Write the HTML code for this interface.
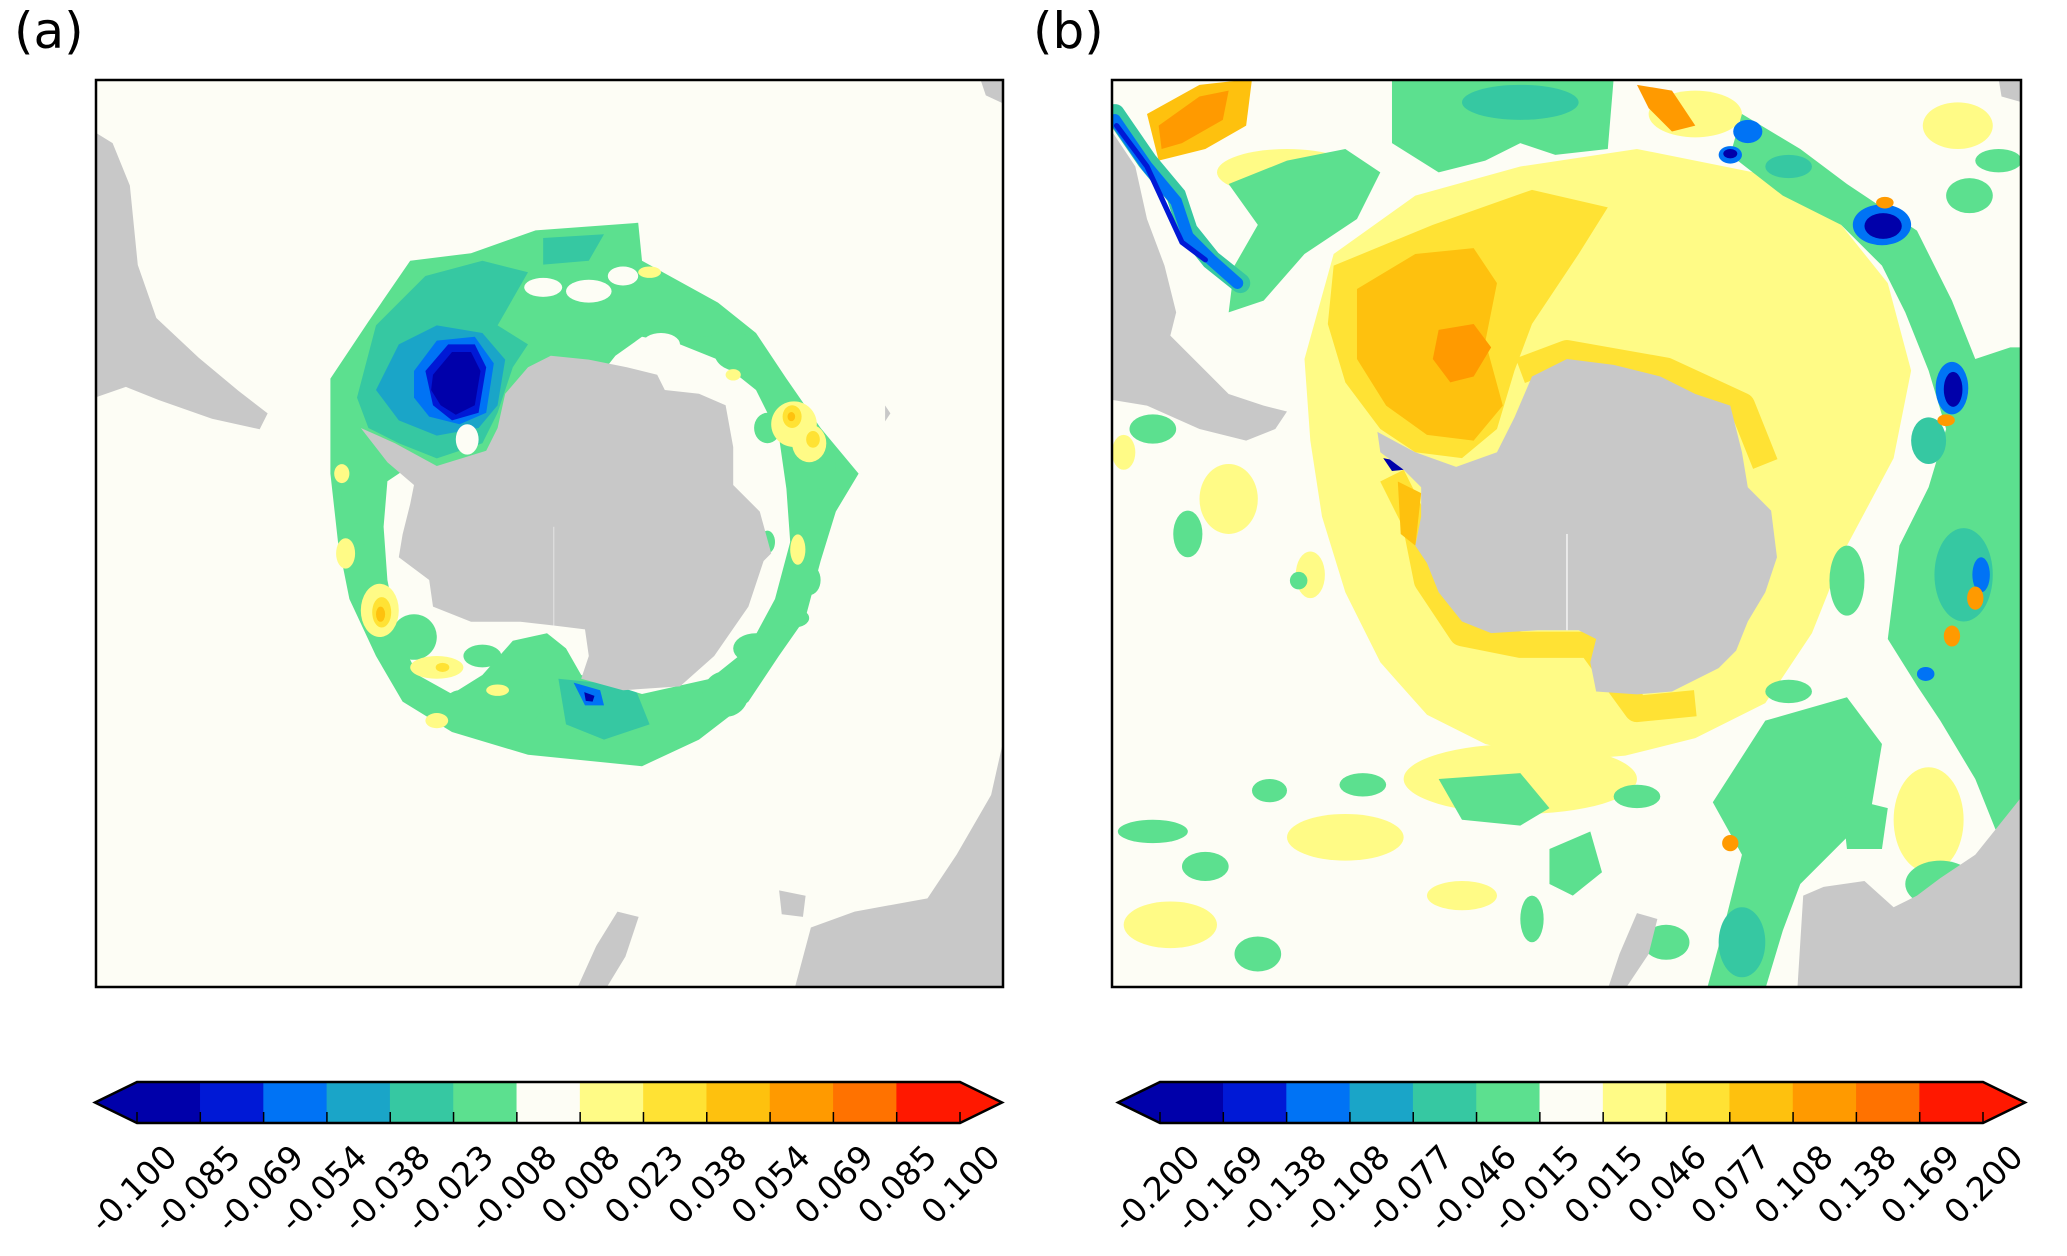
<!DOCTYPE html>
<html><head><meta charset="utf-8"><style>
html,body{margin:0;padding:0;background:#fff;}
svg{display:block;font-family:"DejaVu Sans","Liberation Sans",sans-serif;}
</style></head><body>
<svg id="fig" width="2067" height="1256" viewBox="0 0 2067 1256" xmlns="http://www.w3.org/2000/svg">
<text x="14" y="48" font-size="50">(a)</text>
<text x="1033" y="48" font-size="50">(b)</text>

<!-- PANEL A -->
<g>
<clipPath id="ca"><rect x="96" y="80" width="907" height="907"/></clipPath>
<g clip-path="url(#ca)">
<rect x="96" y="80" width="907" height="907" fill="#fdfdf5"/>
<g transform="scale(1.325)" fill="#c8c8c8">
<path d="M72,100 L85,108 L98,140 L104,200 L118,240 L150,270 L180,295 L202,312 L196,324 L160,316 L120,302 L95,292 L72,300Z"/>
<path d="M740,60 L757,60 L757,78 L744,72Z"/>
<path d="M757,560 L748,600 L722,645 L700,678 L645,688 L612,700 L600,745 L757,745Z"/>
<path d="M466,688 L482,692 L472,722 L458,745 L436,745 L450,714Z"/>
<path d="M588,672 L608,676 L606,692 L590,690Z"/>
<path d="M668,306 L672,312 L668,318Z"/>
</g>
<g transform="translate(300,200) scale(0.38)">
<path fill="#5ce08f" d="M80,470 L180,320 L290,160 L450,140 L620,80 L890,60 L900,160 L1100,270 L1200,350 L1280,470 L1370,600 L1470,720 L1410,820 L1370,950 L1330,1100 L1260,1200 L1180,1320 L1050,1420 L900,1490 L800,1480 L600,1460 L400,1400 L270,1320 L200,1200 L130,1050 L100,900 L80,720Z"/>
<path fill="#36c8a2" d="M150,520 L200,330 L330,200 L480,160 L600,190 L560,260 L520,330 L600,380 L560,440 L520,560 L480,640 L360,680 L260,640 L180,600Z"/>
<path fill="#36c8a2" d="M640,100 L800,90 L760,160 L640,170Z"/>
<path fill="#36c8a2" d="M680,1260 L880,1280 L920,1380 L800,1420 L700,1380Z"/>
<path fill="#1aa5c8" d="M200,500 L260,380 L360,330 L480,350 L540,420 L520,540 L470,600 L360,620 L260,580Z"/>
<path fill="#0073f5" d="M300,450 L360,370 L460,360 L510,430 L490,560 L420,590 L340,570 L300,520Z"/>
<path fill="#0019d6" d="M330,450 L390,380 L460,380 L490,440 L470,560 L400,580 L350,540Z"/>
<path fill="#0000aa" d="M350,460 L400,400 L450,400 L475,450 L460,540 L410,565 L370,540 L345,500Z"/>
<path fill="#0073f5" d="M720,1270 L790,1290 L800,1330 L750,1330Z"/>
<path fill="#0000aa" d="M748,1295 L775,1305 L770,1320 L752,1318Z"/>
<path fill="#fdfdf5" d="M830,410 L900,360 L1000,380 L1100,420 L1200,500 L1260,620 L1280,760 L1290,900 L1250,1050 L1180,1180 L1080,1260 L900,1300 L740,1250 L700,1180 L650,1140 L560,1160 L480,1250 L400,1300 L310,1250 L260,1150 L230,1000 L220,860 L230,740 L290,700 L600,700Z"/>
<g fill="#fdfdf5">
<ellipse cx="640" cy="230" rx="50" ry="25"/><ellipse cx="760" cy="240" rx="60" ry="30"/><ellipse cx="850" cy="200" rx="40" ry="25"/>
<ellipse cx="950" cy="380" rx="50" ry="30"/><ellipse cx="440" cy="630" rx="30" ry="40"/>
</g>
<g fill="#5ce08f">
<ellipse cx="1230" cy="600" rx="35" ry="40"/><ellipse cx="1320" cy="830" rx="30" ry="40"/><ellipse cx="1230" cy="900" rx="20" ry="30"/>
<ellipse cx="1300" cy="1100" rx="40" ry="25"/><ellipse cx="1200" cy="1180" rx="60" ry="40"/><ellipse cx="140" cy="780" rx="30" ry="40"/>
<ellipse cx="150" cy="880" rx="40" ry="30"/><ellipse cx="300" cy="1150" rx="60" ry="60"/><ellipse cx="480" cy="1200" rx="50" ry="30"/>
<ellipse cx="580" cy="1320" rx="60" ry="60"/><ellipse cx="420" cy="1330" rx="40" ry="40"/><ellipse cx="620" cy="1200" rx="40" ry="40"/>
<ellipse cx="1060" cy="320" rx="60" ry="40"/><ellipse cx="1150" cy="400" rx="60" ry="50"/><ellipse cx="1120" cy="1300" rx="60" ry="60"/>
<ellipse cx="1370" cy="700" rx="40" ry="60"/><ellipse cx="1340" cy="1000" rx="30" ry="40"/>
</g>
<g fill="#fffb86">
<ellipse cx="1300" cy="590" rx="60" ry="60"/><ellipse cx="1340" cy="640" rx="45" ry="50"/><ellipse cx="920" cy="190" rx="30" ry="15"/>
<ellipse cx="210" cy="1080" rx="50" ry="70"/><ellipse cx="360" cy="1230" rx="70" ry="30"/><ellipse cx="120" cy="930" rx="25" ry="40"/>
<ellipse cx="110" cy="720" rx="20" ry="25"/><ellipse cx="1310" cy="920" rx="20" ry="40"/><ellipse cx="1140" cy="460" rx="20" ry="15"/>
<ellipse cx="360" cy="1370" rx="30" ry="20"/><ellipse cx="520" cy="1290" rx="30" ry="15"/>
</g>
<g fill="#ffe234"><ellipse cx="1295" cy="570" rx="25" ry="30"/><ellipse cx="1350" cy="630" rx="18" ry="22"/><ellipse cx="215" cy="1085" rx="25" ry="40"/><ellipse cx="375" cy="1230" rx="18" ry="12"/></g>
<g fill="#fec10e"><ellipse cx="1293" cy="570" rx="10" ry="12"/><ellipse cx="212" cy="1090" rx="12" ry="20"/></g>
<path fill="#c8c8c8" d="M160,600 L230,690 L300,750 L290,800 L270,880 L260,940 L340,1000 L350,1070 L450,1110 L580,1110 L670,1120 L750,1130 L760,1200 L740,1260 L850,1290 L1000,1280 L1090,1200 L1180,1070 L1220,950 L1240,930 L1210,820 L1140,750 L1140,650 L1120,540 L1050,510 L960,500 L940,460 L860,440 L760,420 L660,410 L600,440 L540,510 L520,600 L490,660 L360,700 L250,640Z"/>
<line x1="668" y1="860" x2="668" y2="1120" stroke="#eeeeee" stroke-width="2"/>
</g>
</g>
<rect x="96" y="80" width="907" height="907" fill="none" stroke="#000" stroke-width="2.5"/>
</g>

<!-- PANEL B -->
<g>
<clipPath id="cb"><rect x="1112" y="80" width="909" height="907"/></clipPath>
<g clip-path="url(#cb)">
<rect x="1112" y="80" width="909" height="907" fill="#fdfdf5"/>
<g transform="translate(1112,79) scale(0.5833)">
<path fill="#fffb86" d="M330,480 L380,300 L520,200 L700,150 L900,120 L1100,160 L1250,250 L1330,350 L1370,500 L1340,650 L1260,800 L1200,950 L1120,1070 L1000,1130 L880,1160 L760,1170 L640,1140 L540,1090 L460,1000 L400,880 L360,750 L340,620Z"/>
<g fill="#fffb86">
<ellipse cx="700" cy="1200" rx="200" ry="60"/><ellipse cx="400" cy="1300" rx="100" ry="40"/><ellipse cx="200" cy="720" rx="50" ry="60"/>
<ellipse cx="100" cy="1450" rx="80" ry="40"/><ellipse cx="1000" cy="60" rx="80" ry="40"/><ellipse cx="1450" cy="80" rx="60" ry="40"/>
<ellipse cx="300" cy="160" rx="120" ry="40"/><ellipse cx="1400" cy="1270" rx="60" ry="90"/><ellipse cx="20" cy="640" rx="20" ry="30"/>
<ellipse cx="340" cy="850" rx="25" ry="40"/><ellipse cx="600" cy="1400" rx="60" ry="25"/><ellipse cx="1180" cy="1300" rx="50" ry="30"/>
</g>
<path fill="#ffe234" d="M380,320 L550,250 L720,190 L850,220 L800,300 L720,420 L690,500 L660,600 L600,650 L520,640 L460,600 L400,520 L370,420Z"/>
<path fill="none" stroke="#ffe234" stroke-width="45" stroke-linejoin="round" d="M480,680 L520,760 L540,860 L600,950 L700,970 L820,970 L900,1080 L1000,1070 M700,500 L780,470 L950,500 L1080,560 L1120,660"/>
<path fill="#fec10e" d="M420,360 L520,300 L620,290 L660,350 L640,450 L670,560 L620,620 L540,610 L470,560 L420,480Z"/>
<path fill="#fec10e" d="M60,60 L150,10 L240,0 L230,80 L160,120 L80,140Z"/>
<path fill="#fec10e" d="M490,690 L530,710 L520,800 L495,780Z"/>
<path fill="#ff9a00" d="M560,430 L620,420 L650,460 L620,510 L580,520 L550,480Z"/>
<path fill="#ff9a00" d="M80,80 L150,30 L200,20 L190,70 L120,110 L85,120Z"/>
<path fill="#ff9a00" d="M900,10 L960,20 L1000,80 L960,90 L920,50Z"/>
<g fill="#5ce08f">
<path d="M480,0 L860,0 L850,120 L760,130 L700,110 L640,140 L560,160 L480,110Z"/>
<path d="M1080,60 L1180,120 L1260,180 L1380,260 L1440,380 L1480,480 L1540,460 L1560,460 L1560,1250 L1520,1300 L1480,1200 L1420,1100 L1380,1040 L1330,960 L1350,800 L1400,700 L1430,600 L1400,500 L1360,400 L1320,320 L1250,250 L1150,200 L1060,130Z"/>
<path d="M200,180 L300,140 L400,120 L460,160 L420,240 L330,300 L260,380 L200,400 L210,320 L250,250Z"/>
<path d="M1120,1100 L1260,1060 L1320,1140 L1300,1260 L1240,1320 L1180,1380 L1150,1460 L1120,1560 L1020,1560 L1050,1450 L1080,1330 L1030,1240Z"/>
<path d="M560,1200 L700,1190 L750,1250 L700,1280 L600,1270Z"/>
<path d="M750,1320 L820,1290 L840,1360 L790,1400 L750,1380Z"/>
<path d="M1250,1230 L1330,1250 L1320,1320 L1260,1320Z"/>
<path d="M1500,1100 L1560,1080 L1560,1200 L1500,1180Z"/>
</g>
<g fill="#5ce08f">
<ellipse cx="130" cy="780" rx="25" ry="40"/><ellipse cx="70" cy="600" rx="40" ry="25"/><ellipse cx="70" cy="1290" rx="60" ry="20"/>
<ellipse cx="160" cy="1350" rx="40" ry="25"/><ellipse cx="270" cy="1220" rx="30" ry="20"/><ellipse cx="430" cy="1210" rx="40" ry="20"/>
<ellipse cx="720" cy="1440" rx="20" ry="40"/><ellipse cx="950" cy="1480" rx="40" ry="30"/><ellipse cx="250" cy="1500" rx="40" ry="30"/>
<ellipse cx="900" cy="1230" rx="40" ry="20"/><ellipse cx="1260" cy="860" rx="30" ry="60"/><ellipse cx="1160" cy="1050" rx="40" ry="20"/>
<ellipse cx="1470" cy="200" rx="40" ry="30"/><ellipse cx="1520" cy="140" rx="40" ry="20"/><ellipse cx="320" cy="860" rx="15" ry="15"/>
<ellipse cx="1420" cy="1380" rx="60" ry="40"/><ellipse cx="1480" cy="1420" rx="40" ry="40"/>
</g>
<g fill="#36c8a2">
<ellipse cx="700" cy="40" rx="100" ry="30"/><ellipse cx="1460" cy="850" rx="50" ry="80"/><ellipse cx="1080" cy="1480" rx="40" ry="60"/>
<ellipse cx="1400" cy="620" rx="30" ry="40"/><ellipse cx="1160" cy="150" rx="40" ry="20"/>
</g>
<path fill="none" stroke="#36c8a2" stroke-width="34" stroke-linecap="round" d="M5,60 L60,140 L110,200 L130,260 L170,310 L220,350"/>
<path fill="none" stroke="#0073f5" stroke-width="20" stroke-linecap="round" d="M5,70 L60,150 L110,210 L130,270 L170,310 L215,350"/>
<path fill="none" stroke="#0019d6" stroke-width="9" stroke-linecap="round" d="M8,80 L60,150 L120,280 L160,310"/>
<g fill="#0073f5"><ellipse cx="1320" cy="250" rx="50" ry="35"/><ellipse cx="1440" cy="530" rx="28" ry="45"/><ellipse cx="1090" cy="90" rx="25" ry="20"/><ellipse cx="1060" cy="130" rx="20" ry="15"/><ellipse cx="1395" cy="1020" rx="15" ry="12"/><ellipse cx="1490" cy="850" rx="15" ry="30"/></g>
<g fill="#0000aa"><ellipse cx="1322" cy="252" rx="32" ry="22"/><ellipse cx="1442" cy="532" rx="16" ry="30"/><ellipse cx="1060" cy="128" rx="12" ry="8"/><path d="M465,650 L490,655 L500,670 L480,672Z"/></g>
<g fill="#ff9a00"><ellipse cx="1325" cy="212" rx="15" ry="10"/><ellipse cx="1430" cy="585" rx="15" ry="10"/><ellipse cx="1440" cy="955" rx="14" ry="18"/><ellipse cx="1480" cy="890" rx="14" ry="20"/><ellipse cx="1060" cy="1310" rx="14" ry="14"/></g>
<g fill="#c8c8c8">
<path d="M0,90 L40,150 L60,240 L90,320 L110,400 L100,440 L160,500 L200,540 L260,560 L300,570 L280,600 L230,620 L150,600 L60,560 L0,550Z"/>
<path d="M1175,1560 L1185,1400 L1220,1385 L1290,1375 L1340,1420 L1380,1400 L1420,1370 L1480,1330 L1520,1280 L1560,1230 L1560,1560Z"/>
<path d="M900,1430 L935,1440 L920,1500 L880,1560 L850,1560 L870,1500Z"/>
<path d="M1520,0 L1560,0 L1560,40 L1525,30Z"/>
<path d="M455,605 L520,640 L590,665 L660,640 L690,580 L720,510 L780,480 L860,490 L940,510 L1000,540 L1060,560 L1080,640 L1090,700 L1130,740 L1140,820 L1120,880 L1090,930 L1070,980 L1040,1010 L960,1050 L900,1055 L830,1050 L820,1000 L830,960 L800,945 L730,945 L650,950 L600,930 L560,880 L540,830 L520,800 L530,750 L530,700 L500,670 L460,640Z"/>
</g>
<line x1="780" y1="780" x2="780" y2="945" stroke="#eeeeee" stroke-width="3"/>
</g>
</g>
<rect x="1112" y="80" width="909" height="907" fill="none" stroke="#000" stroke-width="2.5"/>
</g>

<g id="cbars"></g>
</svg>
<script>
const colors = ["#0000aa","#0019d6","#0073f5","#1aa5c8","#36c8a2","#5ce08f","#fdfdf5","#fffb86","#ffe234","#fec10e","#ff9a00","#ff7200","#ff1800"];
const ticksA = ["-0.100","-0.085","-0.069","-0.054","-0.038","-0.023","-0.008","0.008","0.023","0.038","0.054","0.069","0.085","0.100"];
const ticksB = ["-0.200","-0.169","-0.138","-0.108","-0.077","-0.046","-0.015","0.015","0.046","0.077","0.108","0.138","0.169","0.200"];
const NS = "http://www.w3.org/2000/svg";
const root = document.getElementById("cbars");
function mk(tag, attrs, parent){const e=document.createElementNS(NS,tag);for(const k in attrs)e.setAttribute(k,attrs[k]);parent.appendChild(e);return e;}
function colorbar(x0, x1, labels, name){
  const top=1082, bot=1123, mid=(top+bot)/2, tip=42;
  const g = mk("g",{},root);
  
  
  const n = colors.length, w=(x1-x0)/n;
  mk("polygon",{points:`${x0},${top} ${x0-tip},${mid} ${x0},${bot}`,fill:colors[0]},g);
  mk("polygon",{points:`${x1},${top} ${x1+tip},${mid} ${x1},${bot}`,fill:colors[n-1]},g);
  colors.forEach((c,i)=>{
    const r = mk("rect",{x:x0+i*w-0.3,y:top,width:w+0.6,height:bot-top,fill:c},g);
    
    
  });
  labels.forEach((t,i)=>{
    const x = x0+i*w;
    mk("line",{x1:x,y1:bot-11,x2:x,y2:bot,stroke:"#000","stroke-width":1.5},g);
    const ax = x+42, ay = 1159;
    const tx = mk("text",{x:ax,y:ay,"font-size":33,"text-anchor":"end",transform:`rotate(-45 ${ax} ${ay})`},g);
    tx.textContent=t;
    
    
  });
  mk("polygon",{points:`${x0-tip},${mid} ${x0},${top} ${x1},${top} ${x1+tip},${mid} ${x1},${bot} ${x0},${bot}`,fill:"none",stroke:"#000","stroke-width":2.5},g);
}
colorbar(137, 960, ticksA, "colorbar-a");
colorbar(1160, 1983, ticksB, "colorbar-b");
</script>
</body></html>
